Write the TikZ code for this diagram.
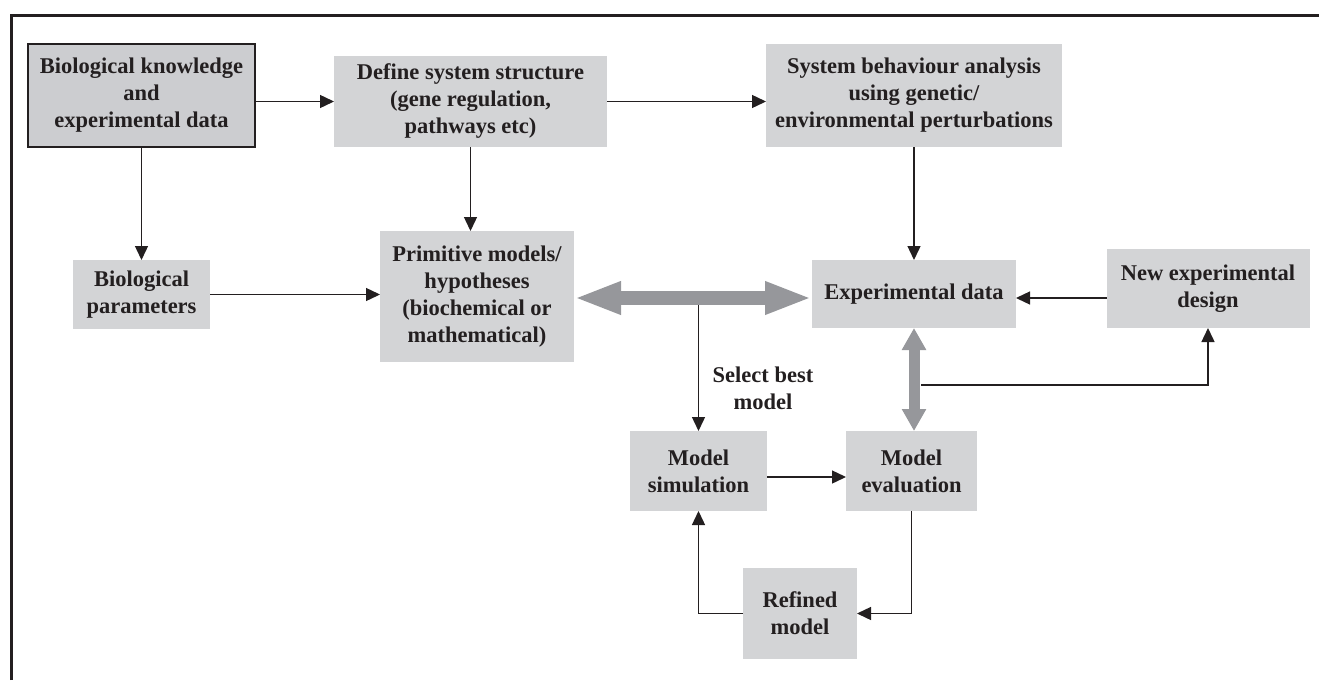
\documentclass[tikz,border=0pt]{standalone}
\usepackage{fontspec}
\setmainfont{Liberation Serif}
\usetikzlibrary{arrows.meta}

\definecolor{boxgrey}{RGB}{211,212,214}
\definecolor{darkbox}{RGB}{204,205,208}
\definecolor{fatgrey}{RGB}{150,151,155}
\definecolor{ink}{RGB}{35,31,32}

\tikzset{
  box/.style={fill=boxgrey, inner sep=0pt, outer sep=0pt, align=center, text=ink,
    font=\fontsize{22.5}{27}\selectfont\bfseries},
  arr/.style={-{Triangle[length=14pt,width=13pt]}, line width=1.4pt, draw=ink},
  fatarr/.style={line width=14pt, draw=fatgrey,
    {Triangle[length=47pt,width=30pt]}-{Triangle[length=47pt,width=30pt]}},
  slimarr/.style={line width=11pt, draw=fatgrey,
    {Triangle[length=22pt,width=23pt]}-{Triangle[length=22pt,width=23pt]}}
}

\begin{document}
\begin{tikzpicture}[x=1pt, y=-1pt]
  \useasboundingbox (0,0) rectangle (1319,680);

  % Frame
  \draw[line width=3pt, ink] (11,680) -- (11,15) -- (1319,15);

  % Top row
  \node[box, fill=darkbox, draw=ink, line width=1.2pt, minimum width=227pt, minimum height=103pt]
    (bioknow) at (141.5,95.5) {Biological knowledge\\and\\experimental data};
  \node[box, minimum width=273pt, minimum height=91pt]
    (defsys) at (470.5,101.5) {Define system structure\\(gene regulation,\\pathways etc)};
  \node[box, minimum width=296pt, minimum height=103pt]
    (sysbeh) at (914,95.5) {System behaviour analysis\\using genetic/\\environmental perturbations};

  % Middle row
  \node[box, minimum width=137pt, minimum height=69pt]
    (biopar) at (141.5,294.5) {Biological\\parameters};
  \node[box, minimum width=194pt, minimum height=131pt]
    (primmod) at (477,296.5) {Primitive models/\\hypotheses\\(biochemical or\\mathematical)};
  \node[box, minimum width=204pt, minimum height=68pt]
    (expdata) at (914,294) {Experimental data};
  \node[box, minimum width=203pt, minimum height=79pt]
    (newexp) at (1208,288.5) {New experimental\\design};

  % Bottom loop
  \node[box, minimum width=137pt, minimum height=80pt]
    (modsim) at (698.5,471) {Model\\simulation};
  \node[box, minimum width=131pt, minimum height=80pt]
    (modeval) at (911.5,471) {Model\\evaluation};
  \node[box, minimum width=114pt, minimum height=91pt]
    (refmod) at (800,613.5) {Refined\\model};

  \node[text=ink, align=center, font=\fontsize{22.5}{27}\selectfont\bfseries]
    (selbest) at (763,388) {Select best\\model};

  % Thin arrows
  \draw[arr] (bioknow.east |- defsys.west) -- (defsys.west);
  \draw[arr] (defsys.east) -- (sysbeh.west |- defsys.east);
  \draw[arr] (bioknow.south) -- (biopar.north);
  \draw[arr] (defsys.south) -- (defsys.south |- primmod.north);
  \draw[arr] (sysbeh.south) -- (expdata.north);
  \draw[arr] (biopar.east) -- (primmod.west |- biopar.east);
  \draw[arr] ([yshift=-4pt]newexp.west |- expdata.east) -- ([yshift=-4pt]expdata.east);
  \coordinate (sel) at (modsim.north |- expdata.west);
  \draw[arr] (sel) -- (modsim.north);
  \coordinate (tap) at (921,385);
  \draw[arr] (tap) -| (newexp.south);
  \draw[arr] ([yshift=-6pt]modsim.east) -- ([yshift=-6pt]modeval.west);
  \draw[arr] (modeval.south) |- (refmod.east);
  \draw[arr] (refmod.west) -| (modsim.south);

  % Grey double arrows
  \draw[fatarr] ([yshift=-4pt]primmod.east |- expdata.west) -- ([yshift=-4pt]expdata.west);
  \draw[slimarr] (expdata.south) -- (expdata.south |- modeval.north);

\end{tikzpicture}
\end{document}
